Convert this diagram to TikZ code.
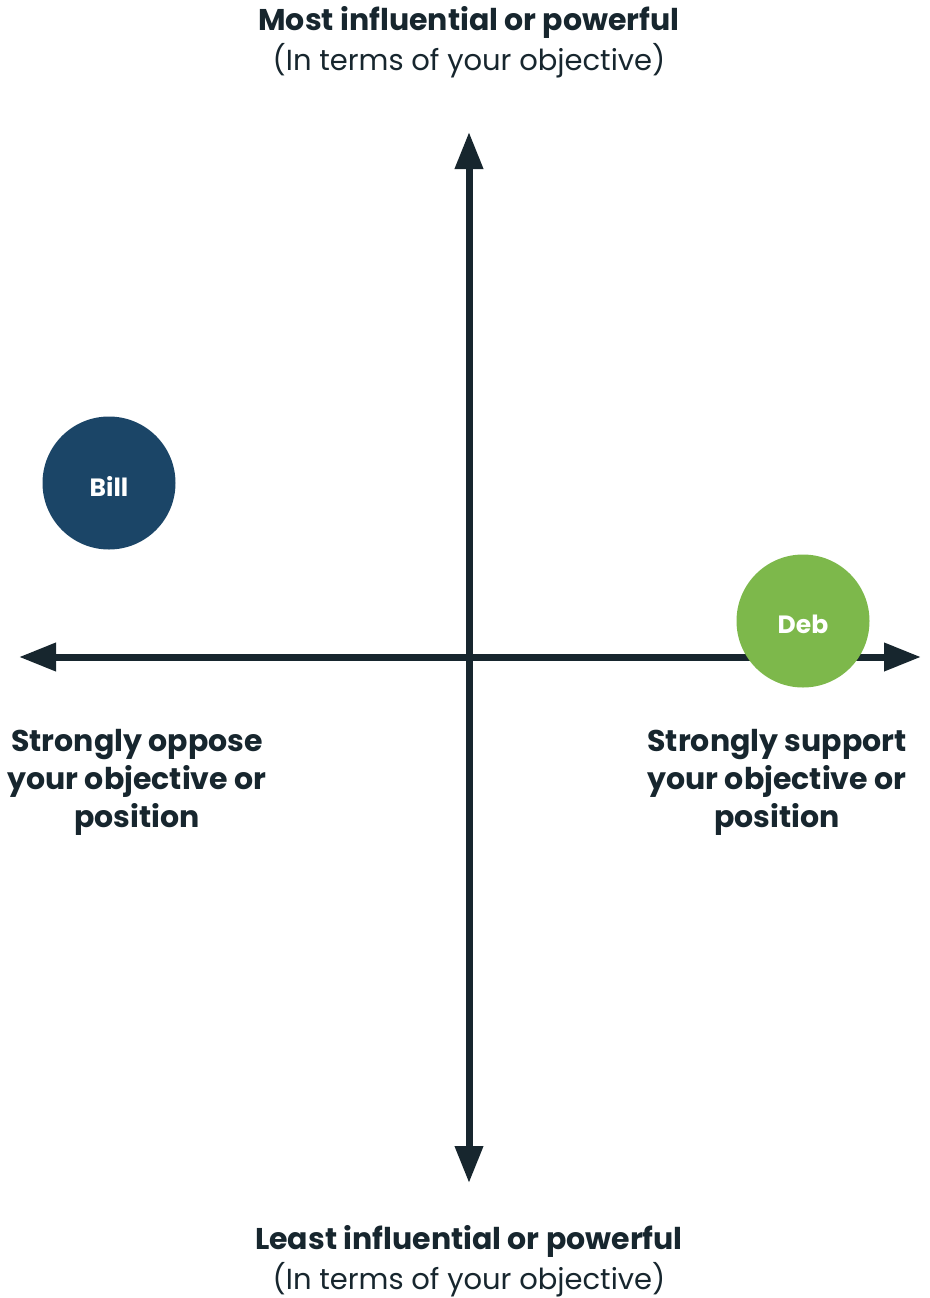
\documentclass[tikz,border=0pt]{standalone}
\usepackage{fontspec}
\setmainfont{Poppins}
\usetikzlibrary{arrows.meta}
\definecolor{axis}{HTML}{17262E}
\definecolor{billc}{HTML}{1B4567}
\definecolor{debc}{HTML}{7DB84B}
\newcommand{\light}{\fontseries{l}\selectfont}
\tikzset{
  ax/.style={draw=axis,line width=7pt,-{Triangle[length=37pt,width=27pt]},shorten >=-1pt},
  person/.style={circle,minimum size=133pt,inner sep=0pt},
  plabel/.style={text=white,font=\fontsize{25}{30}\selectfont\bfseries},
  title/.style={text=axis,align=center,font=\fontsize{30}{38}\selectfont\bfseries},
  sub/.style={text=axis,align=center,font=\fontsize{29}{38}\selectfont\light},
  side/.style={text=axis,align=center,font=\fontsize{30}{38}\selectfont\bfseries}
}
\begin{document}
\begin{tikzpicture}[x=1pt,y=-1pt]
\useasboundingbox (0,0) rectangle (929,1298);
\coordinate (c) at (469,657);
\coordinate (l) at (20,657);
\coordinate (r) at (920,657);
\coordinate (t) at (469,133);
\coordinate (b) at (469,1182);
\draw[ax] (c) -- (l);
\draw[ax] (c) -- (r);
\draw[ax] (c) -- (t);
\draw[ax] (c) -- (b);
\node[person,fill=billc] (bill) at (109,483) {};
\node[plabel] (billt) at (109,486) {Bill};
\node[person,fill=debc] (deb) at (803,621) {};
\node[plabel] (debt) at (803,624) {Deb};
\node[title] (top1) at (469,22) {Most influential or powerful};
\node[sub] (top2) at (469,61) {(In terms of your objective)};
\node[title] (bot1) at (469,1241) {Least influential or powerful};
\node[sub] (bot2) at (469,1280) {(In terms of your objective)};
\node[side] (left) at (137,782) {Strongly oppose\\your objective or\\position};
\node[side] (right) at (777,782) {Strongly support\\your objective or\\position};
\end{tikzpicture}
\end{document}
